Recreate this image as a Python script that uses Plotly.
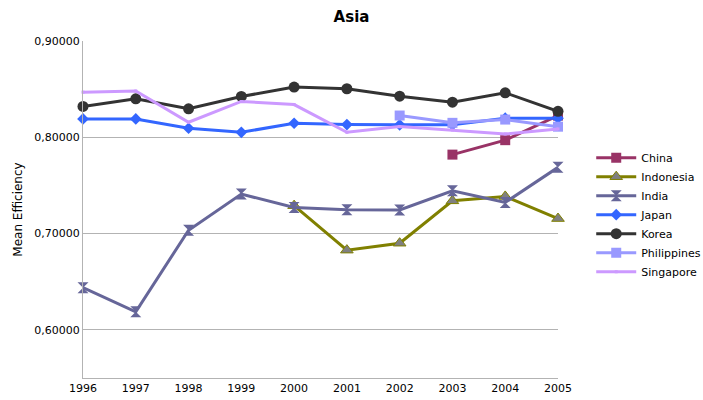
import plotly.graph_objects as go

years = [1996, 1997, 1998, 1999, 2000, 2001, 2002, 2003, 2004, 2005]

china = [None, None, None, None, None, None, None, 0.7820, 0.7970, 0.8225]
indonesia = [None, None, None, None, 0.7290, 0.6828, 0.6900, 0.7340, 0.7386, 0.7156]
india = [0.6438, 0.6187, 0.7035, 0.7410, 0.7270, 0.7248, 0.7245, 0.7445, 0.7323, 0.7688]
japan = [0.8191, 0.8191, 0.8094, 0.8052, 0.8146, 0.8132, 0.8129, 0.8129, 0.8198, 0.8198]
korea = [0.8320, 0.8400, 0.8296, 0.8424, 0.8521, 0.8504, 0.8427, 0.8365, 0.8462, 0.8270]
philippines = [None, None, None, None, None, None, 0.8226, 0.8150, 0.8184, 0.8110]
singapore = [0.8469, 0.8480, 0.8156, 0.8372, 0.8340, 0.8052, 0.8111, 0.8076, 0.8035, 0.8087]

y_ticks = [0.6, 0.7, 0.8, 0.9]

series = [
    ("China", china, "#993366", dict(symbol="square", size=10, color="#993366")),
    ("Indonesia", indonesia, "#808000",
     dict(symbol="triangle-up", size=11, color="#808080", line=dict(color="#808000", width=1))),
    ("India", india, "#666699", dict(symbol="hourglass", size=11, color="#666699")),
    ("Japan", japan, "#3366ff", dict(symbol="diamond", size=9, color="#3366ff")),
    ("Korea", korea, "#333333", dict(symbol="circle", size=11, color="#333333")),
    ("Philippines", philippines, "#9999ff", dict(symbol="square", size=10, color="#9999ff")),
    ("Singapore", singapore, "#cc99ff", dict(symbol="square", size=3, color="#cc99ff")),
]

fig = go.Figure()
for name, vals, col, mk in series:
    fig.add_trace(go.Scatter(
        x=years, y=vals, name=name, mode="lines+markers",
        line=dict(color=col, width=3), marker=mk, cliponaxis=False,
    ))

fig.update_layout(
    width=703, height=400,
    margin=dict(l=83, r=145, t=41, b=22),
    paper_bgcolor="white", plot_bgcolor="white",
    font=dict(family="DejaVu Sans", size=11, color="#000000"),
    separators=",.",
    title=dict(text="<b>Asia</b>", x=0.5, xanchor="center", y=0.972, yanchor="top",
               font=dict(size=15, family="DejaVu Sans")),
    showlegend=True,
    legend=dict(xref="container", yref="container", x=0.841, xanchor="left",
                y=0.642, yanchor="top",
                font=dict(size=11), tracegroupgap=0, itemwidth=40,
                bgcolor="rgba(0,0,0,0)"),
)

fig.update_xaxes(
    range=[1996, 2005], tickvals=years, ticktext=[str(y) for y in years],
    showgrid=False, showline=True, linecolor="#b3b3b3", linewidth=1,
    ticks="", zeroline=False, tickfont=dict(size=11), automargin=False,
)
fig.update_yaxes(
    range=[0.55, 0.9], tickvals=y_ticks, tickformat=".5f",
    showgrid=True, gridcolor="#b3b3b3", gridwidth=1,
    showline=True, linecolor="#b3b3b3", linewidth=1,
    ticks="", zeroline=False, tickfont=dict(size=11), automargin=False,
    title=dict(text="Mean Efficiency", font=dict(size=12), standoff=9),
)

fig.write_html("out.html")
